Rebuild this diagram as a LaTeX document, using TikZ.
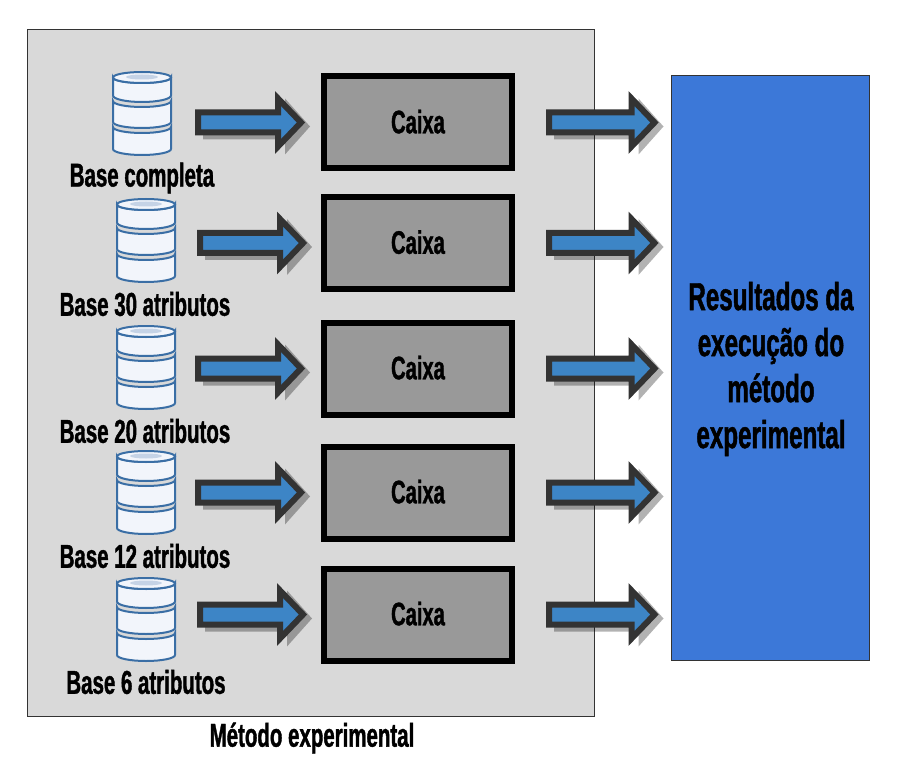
\documentclass[tikz,border=0pt]{standalone}
\usepackage{fontspec}
\setmainfont[BoldFont={* Bold},BoldFeatures={FakeStretch=0.62,FakeBold=1.2}]{Liberation Sans}
\usepackage{tikz}
\usetikzlibrary{calc}
\definecolor{panelgray}{HTML}{D9D9D9}
\definecolor{boxgray}{HTML}{999999}
\definecolor{resultblue}{HTML}{3C78D8}
\definecolor{arrowblue}{HTML}{3D85C6}
\definecolor{arrowdark}{HTML}{333333}
\definecolor{dbline}{HTML}{3A6EA5}
\definecolor{dbfill}{HTML}{F2F5FB}
\definecolor{dbtop}{HTML}{C5D3E6}
\tikzstyle{panel}=[draw=arrowdark, line width=1pt, fill=panelgray, minimum width=567pt, minimum height=686pt]
\tikzstyle{result}=[draw=arrowdark, line width=1pt, fill=resultblue, minimum width=198pt, minimum height=584pt]
\tikzstyle{resulttext}=[align=center, font=\fontsize{39}{46}\selectfont\bfseries]
\tikzstyle{caixa}=[draw=black, line width=6pt, fill=boxgray, minimum width=188pt, minimum height=92pt, text depth=2pt, font=\fontsize{32.5}{36}\selectfont\bfseries]
\tikzstyle{label}=[font=\fontsize{33}{36}\selectfont\bfseries]
\tikzstyle{dbase}=[minimum width=60pt, minimum height=84pt, inner sep=0pt, outer sep=0pt]
\tikzstyle{dbband}=[draw=dbline, line width=2pt, fill=dbfill]
\tikzstyle{block}=[draw=arrowdark, line width=6pt, fill=arrowblue, miter limit=10]
\newcommand{\pDB}[2]{
  \node[dbase] (#1) at #2 {};
  \draw[dbband] (#1.south west) ++(1pt,28pt) -- ++(0,-22pt) arc[start angle=180, end angle=360, x radius=29pt, y radius=6pt] -- ++(0,22pt) arc[start angle=360, end angle=180, x radius=29pt, y radius=6pt] -- cycle;
  \draw[dbband] (#1.south west) ++(1pt,54pt) -- ++(0,-21pt) arc[start angle=180, end angle=360, x radius=29pt, y radius=6pt] -- ++(0,21pt) arc[start angle=360, end angle=180, x radius=29pt, y radius=6pt] -- cycle;
  \draw[dbband] (#1.north west) ++(1pt,-6.5pt) -- ++(0,-18pt) arc[start angle=180, end angle=360, x radius=29pt, y radius=6.5pt] -- ++(0,18pt) arc[start angle=360, end angle=180, x radius=29pt, y radius=5.5pt] -- cycle;
  \draw[dbband] (#1.north) ++(0,-6.5pt) ellipse[x radius=29pt, y radius=5.5pt];
  \fill[dbtop] (#1.north) ++(0,-6pt) ellipse[x radius=16pt, y radius=2.5pt];
}
\newcommand{\pBA}[2]{
  \fill[black, opacity=.3] let \p1 = #1, \p2 = #2 in
    (\x1+8pt,\y1-17pt) -- (\x2-20pt,\y1-17pt) -- (\x2-20pt,\y1-32pt) -- (\x2+5pt,\y1-4pt) -- (\x2-20pt,\y1+24pt) -- (\x2-20pt,\y1+9pt) -- (\x1+8pt,\y1+9pt) -- cycle;
  \draw[block] let \p1 = #1, \p2 = #2 in
    (\x1+3pt,\y1-10pt) -- (\x2-27pt,\y1-10pt) -- (\x2-27pt,\y1-24pt) -- (\x2-4pt,\y1) -- (\x2-27pt,\y1+24pt) -- (\x2-27pt,\y1+10pt) -- (\x1+3pt,\y1+10pt) -- cycle;
}
\begin{document}
\begin{tikzpicture}[x=1pt,y=-1pt]
\useasboundingbox (0,0) rectangle (898,765);

\node[panel] (P) at (310.5,373) {};
\node[result] (R) at (770,368) {};
\node[resulttext] (RT) at (771,369) {Resultados da\\execução do\\método\\experimental};
\node[label] (T) at (312,738) {Método experimental};

\pDB{D1}{(142,113)}
\pDB{D2}{(146,240)}
\pDB{D3}{(146,367)}
\pDB{D4}{(146,492)}
\pDB{D5}{(146,619)}

\node[label] (L1) at (142,178) {Base completa};
\node[label] (L2) at (145,304) {Base 30 atributos};
\node[label] (L3) at (145,431) {Base 20 atributos};
\node[label] (L4) at (145,556) {Base 12 atributos};
\node[label] (L5) at (146,682) {Base 6 atributos};

\node[caixa] (B1) at (418,122.5) {Caixa};
\node[caixa] (B2) at (418,243) {Caixa};
\node[caixa] (B3) at (418,368.5) {Caixa};
\node[caixa] (B4) at (418,492.5) {Caixa};
\node[caixa] (B5) at (418,614.5) {Caixa};

\pBA{([xshift=23pt]D1.east |- B1.west)}{([xshift=-16pt]B1.west)}
\pBA{([xshift=21pt]D2.east |- B2.west)}{([xshift=-14pt]B2.west)}
\pBA{([xshift=19pt]D3.east |- B3.west)}{([xshift=-16pt]B3.west)}
\pBA{([xshift=19pt]D4.east |- B4.west)}{([xshift=-16pt]B4.west)}
\pBA{([xshift=21pt]D5.east |- B5.west)}{([xshift=-14pt]B5.west)}

\pBA{([xshift=31pt]B1.east)}{([xshift=-12pt]R.west |- B1.east)}
\pBA{([xshift=31pt]B2.east)}{([xshift=-12pt]R.west |- B2.east)}
\pBA{([xshift=31pt]B3.east)}{([xshift=-12pt]R.west |- B3.east)}
\pBA{([xshift=31pt]B4.east)}{([xshift=-12pt]R.west |- B4.east)}
\pBA{([xshift=31pt]B5.east)}{([xshift=-12pt]R.west |- B5.east)}

\end{tikzpicture}
\end{document}
